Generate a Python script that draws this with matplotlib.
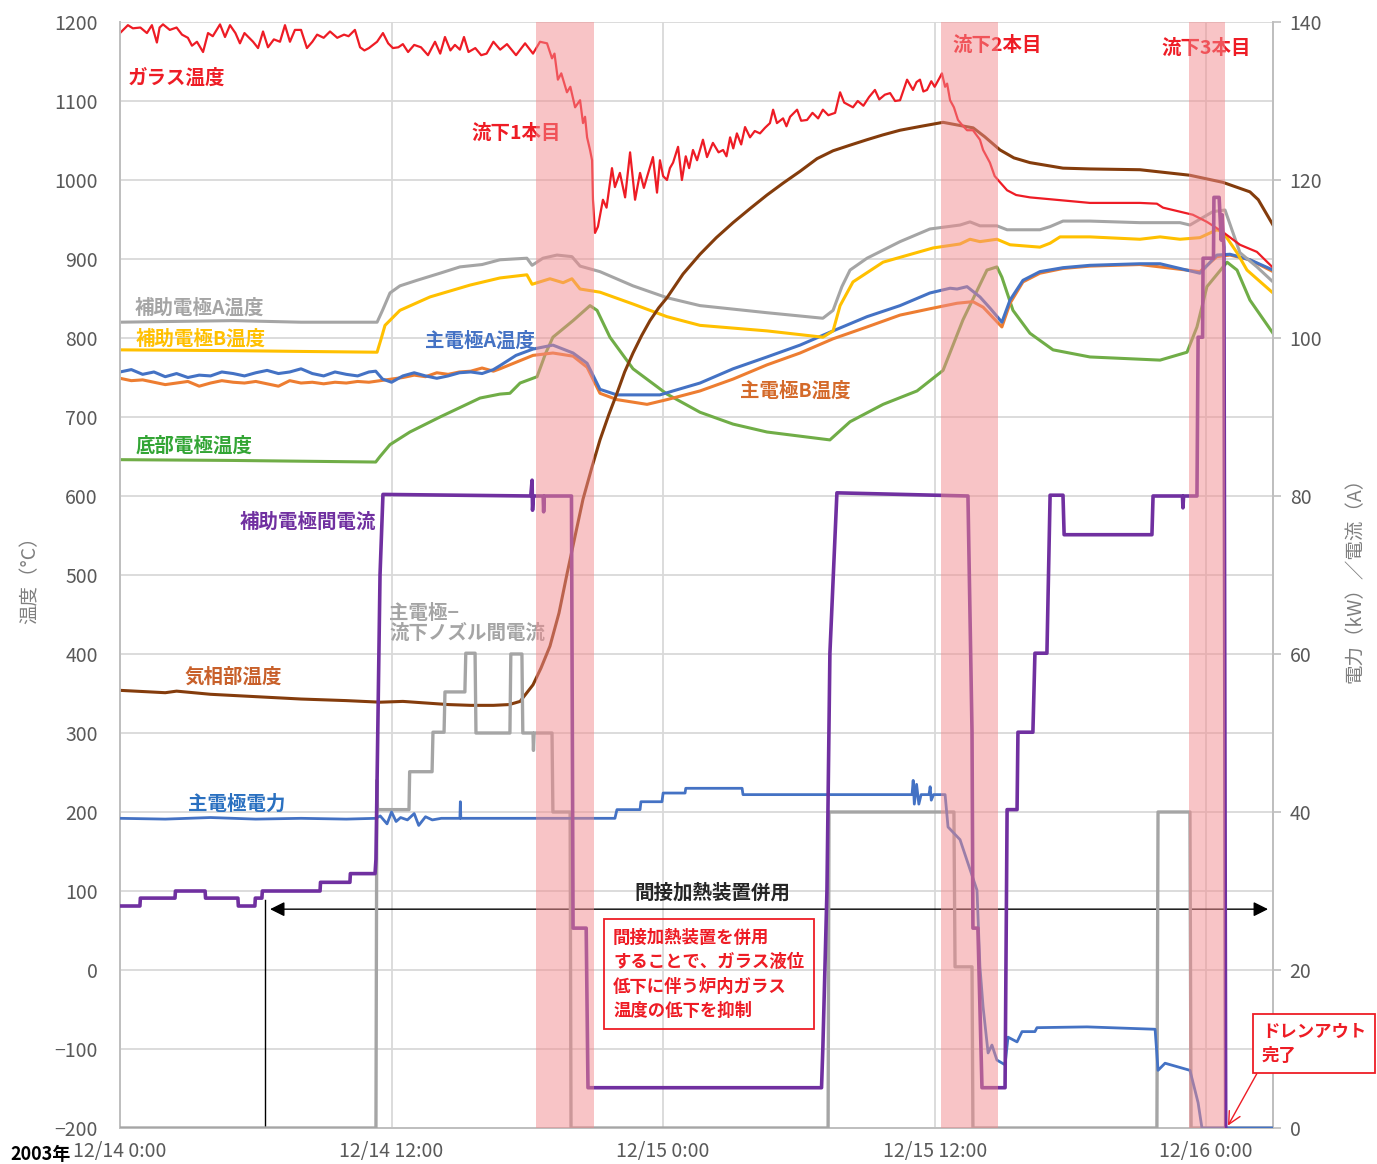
import matplotlib
matplotlib.use("Agg")
import matplotlib.pyplot as plt

plt.rcParams['font.family'] = ['Noto Sans CJK JP', 'DejaVu Sans']

# --- Data (hours from 2003/12/14 0:00) --- #
# temperatures (left axis, degC)
glass_temp = [
    (0.0, 1186), (0.35, 1196), (0.57, 1192), (0.9, 1193), (1.19, 1186), (1.41, 1196), (1.63, 1174), (1.75, 1193),
    (1.9, 1197), (2.2, 1190), (2.5, 1193), (2.74, 1184), (3.0, 1180), (3.18, 1170), (3.4, 1175), (3.67, 1162),
    (3.89, 1186), (4.1, 1182), (4.42, 1197), (4.64, 1181), (4.86, 1196), (5.1, 1186), (5.3, 1173), (5.5, 1186),
    (5.88, 1175), (6.1, 1167), (6.32, 1188), (6.54, 1168), (6.8, 1178), (7.07, 1175), (7.29, 1196), (7.51, 1175),
    (7.73, 1190), (8.0, 1190), (8.26, 1167), (8.5, 1175), (8.71, 1184), (9.0, 1180), (9.28, 1188), (9.6, 1180),
    (9.9, 1184), (10.1, 1182), (10.38, 1190), (10.61, 1168), (10.8, 1164), (11.0, 1167), (11.36, 1175), (11.62, 1186),
    (11.85, 1173), (12.06, 1167), (12.3, 1168), (12.5, 1172), (12.73, 1162), (13.0, 1171), (13.3, 1168), (13.61, 1158),
    (13.92, 1175), (14.15, 1160), (14.36, 1181), (14.6, 1164), (14.8, 1171), (15.02, 1165), (15.2, 1181), (15.4, 1162),
    (15.7, 1167), (15.96, 1158), (16.2, 1160), (16.5, 1175), (16.8, 1165), (17.1, 1172), (17.5, 1158), (17.9, 1173),
    (18.25, 1160), (18.56, 1175), (18.87, 1173), (19.09, 1154), (19.2, 1160), (19.35, 1127), (19.5, 1135), (19.75, 1111),
    (19.9, 1118), (20.11, 1092), (20.33, 1101), (20.46, 1072), (20.55, 1080), (20.64, 1054), (20.77, 1038), (20.86, 1025),
    (20.9, 975), (20.99, 933), (21.12, 941), (21.34, 975), (21.5, 965), (21.74, 1015), (21.87, 991), (22.09, 1009),
    (22.32, 978), (22.54, 1035), (22.76, 975), (22.98, 1009), (23.15, 990), (23.29, 1004), (23.55, 1029), (23.73, 984),
    (23.86, 1025), (24.0, 1005), (24.17, 1000), (24.3, 1015), (24.44, 1022), (24.66, 1042), (24.83, 1000), (25.0, 1030),
    (25.15, 1015), (25.32, 1038), (25.5, 1025), (25.76, 1051), (25.94, 1029), (26.2, 1047), (26.45, 1035), (26.65, 1038),
    (26.8, 1030), (26.96, 1054), (27.1, 1040), (27.26, 1059), (27.45, 1045), (27.62, 1067), (27.84, 1054), (28.05, 1062),
    (28.28, 1059), (28.5, 1066), (28.72, 1072), (28.86, 1089), (29.03, 1072), (29.3, 1078), (29.45, 1068), (29.61, 1080),
    (29.92, 1089), (30.1, 1075), (30.36, 1076), (30.6, 1085), (30.85, 1078), (31.06, 1089), (31.3, 1082), (31.6, 1085),
    (31.82, 1111), (32.0, 1098), (32.2, 1095), (32.39, 1092), (32.6, 1100), (32.85, 1094), (33.1, 1105), (33.36, 1114),
    (33.55, 1102), (33.8, 1108), (34.03, 1110), (34.25, 1100), (34.47, 1101), (34.78, 1127), (35.04, 1114), (35.2, 1124),
    (35.35, 1127), (35.5, 1112), (35.66, 1114), (35.85, 1125), (36.0, 1118), (36.23, 1130), (36.32, 1135), (36.46, 1118),
    (36.55, 1122), (36.68, 1101), (36.85, 1092), (37.03, 1076), (37.2, 1070), (37.43, 1063), (37.69, 1063), (38.0, 1051),
    (38.14, 1038), (38.44, 1022), (38.65, 1005), (38.89, 997), (39.2, 987), (39.6, 981), (40.21, 978), (42.86, 971),
    (45.07, 971), (45.82, 970), (46.09, 965), (47.41, 956), (48.03, 947), (48.74, 934), (49.49, 918), (50.24, 909),
    (50.95, 889),
]

gas_temp = [
    (0, 354), (2, 351), (2.5, 353), (4, 349), (6, 346), (8, 343), (10, 341), (11.5, 339), (12.5, 340), (13.5, 338),
    (14.5, 336), (15.5, 335), (16.5, 335), (17.2, 336), (17.68, 340), (18.25, 361), (18.6, 382), (19.0, 410),
    (19.4, 452), (19.75, 501), (20.1, 548), (20.46, 596), (20.85, 636), (21.21, 671), (21.6, 703), (21.96, 730),
    (22.3, 757), (22.67, 781), (23.05, 803), (23.42, 822), (23.8, 838), (24.17, 851), (24.88, 881), (25.63, 906),
    (26.35, 927), (27.09, 946), (27.85, 964), (28.59, 981), (29.3, 996), (30.05, 1011), (30.8, 1027), (31.51, 1037),
    (32.25, 1044), (33.01, 1051), (33.7, 1057), (34.47, 1063), (35.4, 1068), (36.37, 1073), (37.12, 1069),
    (37.7, 1066), (38.2, 1055), (38.89, 1038), (39.5, 1028), (40.21, 1022), (41.67, 1015), (42.86, 1014),
    (45.07, 1013), (47.28, 1006), (48.74, 997), (49.93, 985), (50.3, 975), (50.95, 943),
]

aux_a_temp = [
    (0, 820), (2.5, 821), (5, 822), (8, 820), (11.36, 820), (11.6, 835), (11.93, 857), (12.37, 866), (13.12, 873),
    (14.14, 882), (15.02, 890), (16.0, 893), (16.79, 899), (17.98, 901), (18.21, 892), (18.69, 901), (19.31, 905),
    (19.97, 903), (20.33, 891), (21.21, 884), (22.67, 866), (24.17, 851), (25.63, 841), (28.59, 832), (31.06, 825),
    (31.51, 835), (31.9, 865), (32.26, 886), (33.01, 901), (34.47, 922), (35.79, 938), (37.12, 943), (37.56, 947),
    (38.0, 942), (38.75, 942), (39.2, 937), (40.65, 937), (41.1, 941), (41.67, 948), (42.86, 948), (45.07, 946),
    (46.84, 946), (47.28, 943), (48.3, 960), (48.83, 962), (49.49, 908), (50.24, 890), (50.95, 871),
]

aux_b_temp = [
    (0, 785), (5, 784), (8, 783), (11.36, 782), (11.55, 800), (11.71, 816), (12.37, 835), (13.7, 852), (15.47, 867),
    (16.79, 876), (17.98, 880), (18.21, 868), (19.0, 875), (19.58, 870), (19.97, 875), (20.33, 862), (21.21, 858),
    (22.67, 843), (24.17, 827), (25.63, 816), (28.59, 809), (31.06, 801), (31.51, 809), (31.82, 841), (32.39, 871),
    (33.72, 896), (35.93, 914), (37.12, 919), (37.56, 925), (38.0, 922), (38.75, 925), (39.33, 918), (40.65, 915),
    (41.1, 920), (41.54, 928), (42.86, 928), (45.07, 925), (45.96, 928), (46.84, 925), (47.72, 927), (48.47, 937),
    (48.74, 934), (49.36, 908), (49.8, 886), (50.95, 857),
]

main_a_temp = [
    (0, 757), (0.5, 760), (1.0, 754), (1.5, 757), (2.0, 751), (2.5, 755), (3.0, 750), (3.5, 753), (4.0, 752),
    (4.5, 757), (5.0, 755), (5.5, 752), (6.0, 756), (6.5, 759), (7.0, 755), (7.5, 757), (8.0, 761), (8.5, 755),
    (9.0, 752), (9.5, 757), (10.0, 754), (10.5, 752), (11.0, 757), (11.3, 758), (11.6, 748), (12.0, 744),
    (12.5, 752), (13.0, 756), (13.5, 752), (14.0, 749), (14.5, 752), (15.0, 756), (15.5, 757), (16.0, 755),
    (16.5, 760), (16.79, 765), (17.5, 778), (18.25, 786), (19.13, 791), (20.02, 781), (20.64, 768), (21.21, 735),
    (21.96, 728), (23.86, 728), (24.44, 733), (25.63, 743), (27.09, 761), (28.59, 776), (30.05, 791), (31.51, 809),
    (33.01, 827), (34.47, 841), (35.79, 857), (36.68, 863), (36.99, 862), (37.43, 865), (38.0, 852), (38.44, 838),
    (38.97, 820), (39.33, 848), (39.9, 873), (40.65, 884), (41.67, 889), (42.86, 892), (45.07, 894), (45.96, 894),
    (47.72, 882), (48.47, 905), (49.05, 906), (49.93, 899), (50.95, 886),
]

main_b_temp = [
    (0, 749), (0.5, 746), (1.0, 747), (1.5, 744), (2.0, 741), (2.5, 743), (3.0, 745), (3.5, 739), (4.0, 743),
    (4.5, 746), (5.0, 744), (5.5, 743), (6.0, 745), (6.5, 742), (7.0, 739), (7.5, 746), (8.0, 743), (8.5, 744),
    (9.0, 742), (9.5, 744), (10.0, 743), (10.5, 745), (11.0, 744), (11.5, 746), (12.0, 748), (12.5, 750),
    (13.0, 753), (13.5, 751), (14.0, 756), (14.5, 754), (15.0, 757), (15.5, 758), (16.0, 762), (16.5, 758),
    (16.79, 761), (18.25, 778), (19.13, 781), (20.02, 777), (20.64, 763), (21.21, 730), (21.96, 722), (23.29, 716),
    (24.17, 722), (25.63, 733), (27.09, 748), (28.59, 766), (30.05, 781), (31.51, 799), (33.01, 814), (34.47, 829),
    (35.79, 837), (36.99, 844), (37.69, 846), (38.14, 839), (38.97, 814), (39.33, 844), (39.9, 871), (40.65, 882),
    (41.67, 888), (42.86, 891), (45.07, 893), (47.72, 884), (48.47, 903), (49.05, 905), (49.93, 899), (50.95, 884),
]

bottom_temp = [
    (0, 646), (5, 645), (11.3, 643), (11.49, 650), (11.93, 665), (12.81, 681), (14.14, 700), (15.91, 724),
    (16.79, 729), (17.23, 730), (17.68, 743), (18.43, 751), (18.8, 780), (19.13, 801), (20.02, 822), (20.77, 841),
    (21.08, 835), (21.65, 801), (22.67, 761), (24.17, 729), (25.63, 706), (27.09, 691), (28.59, 681), (31.37, 671),
    (32.26, 694), (33.72, 716), (35.22, 733), (36.37, 759), (37.25, 823), (38.31, 886), (38.75, 890), (38.97, 877),
    (39.46, 835), (40.21, 806), (41.23, 785), (42.86, 776), (45.96, 772), (47.15, 782), (47.59, 814), (48.03, 865),
    (48.92, 896), (49.36, 886), (49.93, 848), (50.95, 806),
]

# power (kW) / current (A), right axis
aux_current = [
    (0, 28.1), (0.88, 28.1), (0.9, 29.1), (2.43, 29.1), (2.45, 30.0), (3.76, 30.0), (3.78, 29.1), (5.21, 29.1),
    (5.23, 28.1), (5.96, 28.1), (5.98, 29.1), (6.27, 29.1), (6.29, 30.0), (8.84, 30.0), (8.86, 31.1),
    (10.16, 31.1), (10.18, 32.2), (11.27, 32.2), (11.31, 34.0), (11.49, 70.0), (11.62, 80.2), (18.15, 80.0),
    (18.21, 82.0), (18.23, 78.2), (18.27, 80.0), (18.7, 80.0), (18.72, 78.0), (18.75, 80.0), (19.95, 80.0),
    (20.02, 25.3), (20.6, 25.3), (20.68, 5.1), (31.0, 5.1), (31.06, 10.3), (31.24, 30.1), (31.37, 60.1),
    (31.68, 80.4), (37.47, 80.0), (37.65, 50.1), (37.69, 25.3), (37.91, 25.3), (38.09, 5.1), (39.11, 5.1),
    (39.2, 40.3), (39.64, 40.3), (39.68, 50.1), (40.34, 50.1), (40.43, 60.1), (40.96, 60.1), (41.1, 80.1),
    (41.67, 80.1), (41.72, 75.1), (45.6, 75.1), (45.65, 80.0), (46.95, 80.0), (46.97, 78.5), (47.0, 80.0),
    (47.59, 80.0), (47.64, 100.1), (47.84, 100.1), (47.86, 110.1), (48.32, 110.1), (48.34, 117.8),
    (48.57, 117.8), (48.66, 112.4), (48.7, 115.6), (48.78, 111.5), (48.86, 0.0),
]

nozzle_current = [
    (0, 0), (11.31, 0), (11.35, 44.0), (11.38, 40.3), (12.77, 40.3), (12.8, 45.1), (13.79, 45.1), (13.83, 50.1),
    (14.32, 50.1), (14.36, 55.2), (15.24, 55.2), (15.28, 60.1), (15.69, 60.1), (15.73, 50.0), (17.23, 50.0),
    (17.27, 60.0), (17.76, 60.0), (17.8, 50.0), (18.25, 50.0), (18.27, 47.8), (18.3, 50.0), (19.09, 50.0),
    (19.13, 40.0), (19.89, 40.0), (19.93, 0), (31.29, 0), (31.33, 40.0), (36.85, 40.0), (36.9, 20.4),
    (37.65, 20.4), (37.69, 0), (45.82, 0), (45.87, 40.0), (47.28, 40.0), (47.33, 0), (50.95, 0),
]

main_power = [
    (0, 39.2), (2, 39.1), (4, 39.3), (6, 39.1), (8, 39.2), (10, 39.1), (11.3, 39.2), (11.5, 39.5), (11.8, 38.5),
    (12.0, 40.0), (12.2, 38.8), (12.4, 39.3), (12.7, 39.0), (13.0, 39.8), (13.2, 38.3), (13.5, 39.4),
    (13.8, 39.0), (14.2, 39.2), (15.02, 39.2), (15.04, 41.3), (15.06, 39.2), (21.87, 39.2), (21.96, 40.3),
    (22.98, 40.3), (23.02, 41.3), (23.95, 41.3), (24.0, 42.4), (24.97, 42.4), (25.0, 43.0), (27.49, 43.0),
    (27.53, 42.2), (35.0, 42.2), (35.05, 44.0), (35.1, 41.0), (35.2, 43.5), (35.3, 41.0), (35.4, 42.2),
    (35.75, 42.2), (35.8, 43.2), (35.85, 41.5), (35.95, 42.2), (36.46, 42.2), (36.59, 38.1), (37.12, 36.5),
    (37.87, 30.1), (38.0, 20.4), (38.14, 15.3), (38.36, 9.5), (38.53, 10.5), (38.75, 8.6), (39.11, 8.0),
    (39.24, 11.5), (39.64, 10.9), (39.86, 12.2), (40.43, 12.2), (40.52, 12.7), (42.73, 12.8), (45.74, 12.5),
    (45.87, 7.3), (46.18, 8.2), (47.28, 7.3), (47.5, 4.8), (47.64, 3.2), (47.81, 0), (50.95, 0),
]

drain_start = [18.38, 36.28, 47.24]
drain_end = [20.95, 38.80, 48.83]

x_ticks = [0, 12, 24, 36, 48]
x_labels = ['12/14 0:00', '12/14 12:00', '12/15 0:00', '12/15 12:00', '12/16 0:00']
left_ticks = list(range(-200, 1201, 100))
right_ticks = list(range(0, 141, 20))

# colours
RED = '#ee1c25'
BROWN = '#843c0c'
GRAY = '#a5a5a5'
YELLOW = '#ffc000'
BLUE = '#4472c4'
ORANGE = '#ed7d31'
GREEN = '#70ad47'
PURPLE = '#7030a0'
TICK = '#595959'


def xs(data):
    return [p[0] for p in data]


def ys(data):
    return [p[1] for p in data]


fig = plt.figure(figsize=(13.77, 11.64), dpi=100)
ax = fig.add_axes([120 / 1377, 1 - 1128 / 1164, 1153 / 1377, 1106 / 1164])
ax2 = ax.twinx()

# temperature lines
ax.plot(xs(bottom_temp), ys(bottom_temp), color=GREEN, lw=2.2, zorder=3)
ax.plot(xs(main_b_temp), ys(main_b_temp), color=ORANGE, lw=2.2, zorder=3)
ax.plot(xs(main_a_temp), ys(main_a_temp), color=BLUE, lw=2.2, zorder=3)
ax.plot(xs(aux_b_temp), ys(aux_b_temp), color=YELLOW, lw=2.2, zorder=3)
ax.plot(xs(aux_a_temp), ys(aux_a_temp), color=GRAY, lw=2.2, zorder=3)
ax.plot(xs(gas_temp), ys(gas_temp), color=BROWN, lw=2.2, zorder=3)
ax.plot(xs(glass_temp), ys(glass_temp), color=RED, lw=1.6, zorder=4)

# power / current lines
ax2.plot(xs(nozzle_current), ys(nozzle_current), color=GRAY, lw=2.4, zorder=3)
ax2.plot(xs(main_power), ys(main_power), color=BLUE, lw=2.0, zorder=3)
ax2.plot(xs(aux_current), ys(aux_current), color=PURPLE, lw=2.6, zorder=4)

# drain periods
for s, e in zip(drain_start, drain_end):
    ax2.axvspan(s, e, facecolor='#f28b8e', alpha=0.5, lw=0, zorder=6)

# axes
ax.set_xlim(0, 50.95)
ax.set_ylim(-200, 1200)
ax2.set_ylim(0, 140)
ax.set_xticks(x_ticks)
ax.set_xticklabels(x_labels)
ax.set_yticks(left_ticks)
ax.set_yticklabels([str(v).replace('-', '\u2212') for v in left_ticks])
ax2.set_yticks(right_ticks)
ax.grid(True, color='#d9d9d9', lw=1.3)
ax.set_axisbelow(True)
ax.tick_params(axis='both', length=0, labelsize=14, colors=TICK)
ax.tick_params(axis='x', pad=9)
ax.tick_params(axis='y', pad=16)
ax2.tick_params(axis='y', length=6, width=1.2, color='#bfbfbf', labelsize=14, labelcolor=TICK, pad=6)
for a in (ax, ax2):
    a.spines['top'].set_visible(False)
    for side in ('left', 'right', 'bottom'):
        a.spines[side].set_color('#bfbfbf')
        a.spines[side].set_linewidth(1.3)

fig.text(30 / 1377, 1 - 575 / 1164, '温度（°C）', rotation=90, ha='center', va='center',
         fontsize=14, color='#7f7f7f')
fig.text(1355 / 1377, 1 - 575 / 1164, '電力（kW）／電流（A）', rotation=90, ha='center', va='center',
         fontsize=14, color='#7f7f7f')
fig.text(10 / 1377, 1 - 1154 / 1164, '2003年', ha='left', va='center', fontsize=13,
         fontweight='bold', color='black')

# series labels
lab = dict(fontsize=14, fontweight='bold', va='center')
ax.text(0.35, 1129, 'ガラス温度', color=RED, ha='left', **lab)
ax.text(15.55, 1059, '流下1本目', color=RED, ha='left', **lab)
ax.text(36.77, 1171, '流下2本目', color=RED, ha='left', **lab)
ax.text(46.0, 1167, '流下3本目', color=RED, ha='left', **lab)
ax.text(0.66, 838, '補助電極A温度', color=GRAY, ha='left', **lab)
ax.text(0.7, 799, '補助電極B温度', color=YELLOW, ha='left', **lab)
ax.text(13.48, 796, '主電極A温度', color=BLUE, ha='left', **lab)
ax.text(27.4, 733, '主電極B温度', color='#d46a2a', ha='left', **lab)
ax.text(0.7, 663, '底部電極温度', color='#33a535', ha='left', **lab)
ax.text(11.3, 567, '補助電極間電流', color=PURPLE, ha='right', **lab)
ax.text(11.89, 439, '主電極−\n流下ノズル間電流', color=GRAY, ha='left', linespacing=1.05, **lab)
ax.text(2.87, 371, '気相部温度', color='#c8602a', ha='left', **lab)
ax.text(3.0, 210, '主電極電力', color='#2a70c0', ha='left', **lab)

# indirect heating period
ax.annotate('', xy=(50.73, 77), xytext=(6.63, 77),
            arrowprops=dict(arrowstyle='<|-|>', color='black', lw=1.0, mutation_scale=22, shrinkA=0, shrinkB=0),
            zorder=8)
ax.plot([6.41, 6.41], [-200, 89], color='black', lw=1.0, zorder=8)
ax.text(26.2, 97, '間接加熱装置併用', color='#262626', ha='center', **lab)
ax.text(21.79, 52, '間接加熱装置を併用\nすることで、ガラス液位\n低下に伴う炉内ガラス\n温度の低下を抑制',
        color=RED, ha='left', va='top', fontsize=12.5, fontweight='bold', linespacing=1.45,
        bbox=dict(boxstyle='square,pad=0.55', fc='none', ec=RED, lw=1.3), zorder=9)
ax2.annotate('ドレンアウト\n完了', xy=(48.96, 0.3), xytext=(50.46, 13.3),
             color=RED, ha='left', va='top', fontsize=12.5, fontweight='bold', linespacing=1.4,
             bbox=dict(boxstyle='square,pad=0.5', fc='white', ec=RED, lw=1.3),
             arrowprops=dict(arrowstyle='->', color=RED, lw=1.0, relpos=(0, 0), shrinkA=0, shrinkB=0,
                             mutation_scale=22),
             annotation_clip=False, zorder=9)

fig.savefig('out.png', dpi=100)
